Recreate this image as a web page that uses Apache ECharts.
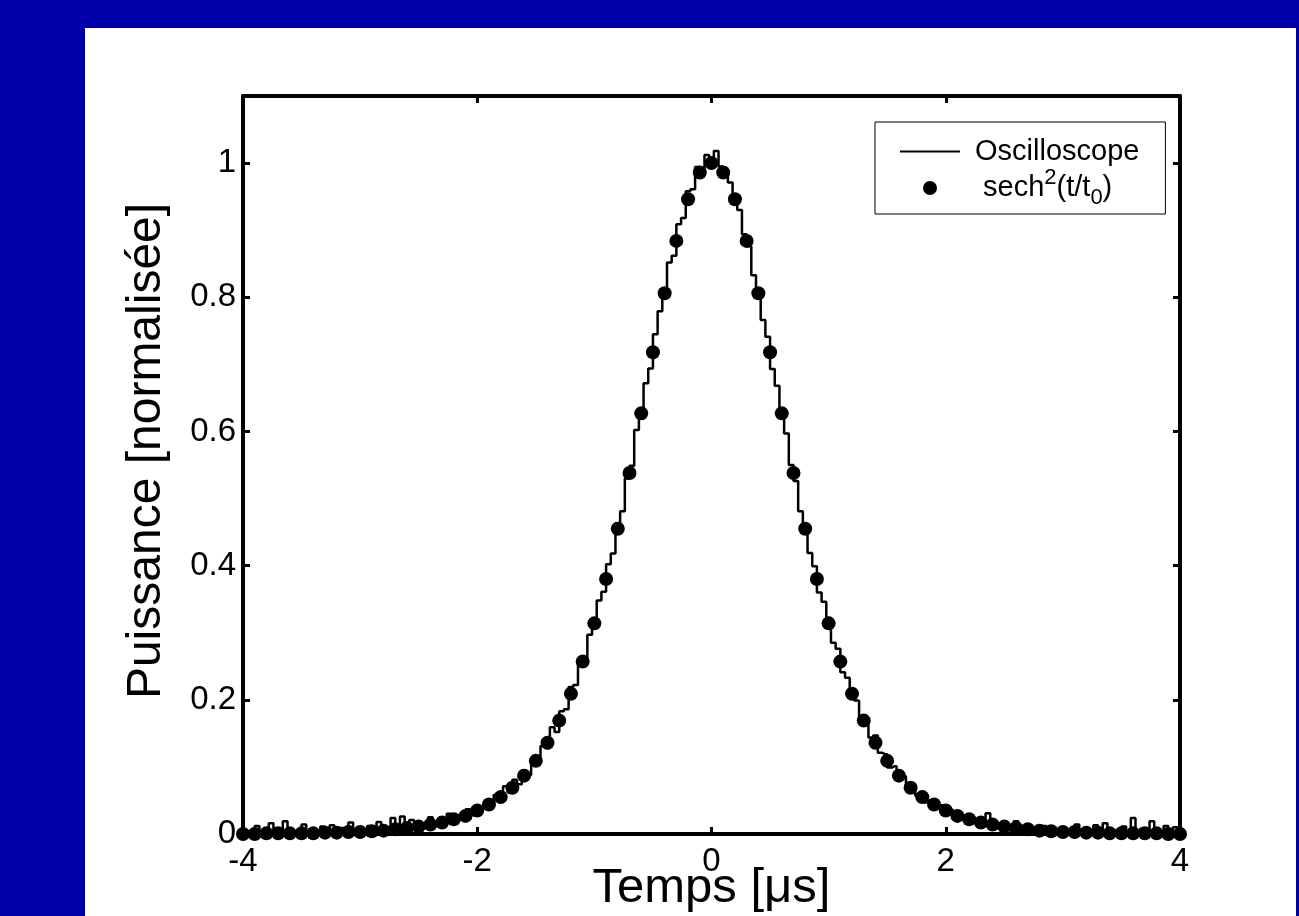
<!DOCTYPE html>
<html><head><meta charset="utf-8">
<script src="https://cdn.jsdelivr.net/npm/echarts@6/dist/echarts.min.js"></script>
<style>
html,body{margin:0;padding:0;width:1299px;height:916px;background:#0000aa;overflow:hidden}
#panel{position:absolute;left:85px;top:28px;width:1211px;height:888px;background:#fff}
#chart{width:1211px;height:888px}
</style></head><body>
<div id="panel"><div id="chart"></div></div>
<script>
// x ticks / y ticks
const xMin = -4, xMax = 4, xInterval = 2;
const yMin = 0, yMax = 1.1, yInterval = 0.2;

// Oscilloscope trace: samples every 0.04 us from -4 to 4
const oscStart = -4, oscStep = 0.04;
const oscValues = [
 0.002,0.004,0.000,0.012,0.003,0.001,0.016,0.004,0.002,0.019,
 0.005,0.001,0.003,0.014,0.002,0.006,0.000,0.011,0.004,0.013,
 0.003,0.009,0.002,0.017,0.005,0.008,0.003,0.012,0.006,0.018,
 0.004,0.010,0.024,0.008,0.026,0.011,0.021,0.007,0.016,0.012,
 0.025,0.013,0.019,0.014,0.030,0.018,0.027,0.022,0.037,0.028,
 0.036,
 0.041,0.049,0.043,0.058,0.052,0.071,0.062,0.081,0.074,0.095,
 0.088,0.112,0.106,0.131,0.128,0.159,0.152,0.183,0.186,0.219,
 0.222,0.258,0.262,0.297,0.309,0.348,0.361,0.402,0.418,0.463,
 0.481,0.530,0.549,0.602,0.619,0.672,0.694,0.745,0.779,0.801,
 0.852,0.862,0.909,0.918,0.958,0.961,0.994,0.986,1.012,
 0.997,
 1.018,0.995,0.983,0.971,0.941,0.930,0.894,0.876,0.833,0.812,
 0.766,0.741,0.693,0.668,0.621,0.597,0.550,0.526,0.481,0.461,
 0.419,0.399,0.360,0.346,0.322,0.285,0.276,0.241,0.233,0.204,
 0.199,0.172,0.169,0.144,0.147,0.121,0.119,0.099,0.101,0.083,
 0.086,0.069,0.071,0.057,0.061,0.047,0.050,0.039,0.043,0.032,
 0.036,0.027,0.030,0.022,0.026,0.018,0.023,0.013,0.031,0.011,
 0.016,0.008,0.014,0.006,0.019,0.004,0.011,0.003,0.008,0.002,
 0.012,0.003,0.006,0.001,0.009,0.002,0.004,0.014,0.002,0.007,
 0.001,0.013,0.003,0.016,0.002,0.005,0.001,0.011,0.004,0.024,
 0.003,0.008,0.002,0.019,0.004,0.002,0.012,0.003,0.010,0.002
];

// sech^2(t/t0) fit points every 0.1 us from -4 to 4
const fitStart = -4, fitStep = 0.1;
const fitValues = [
 0.000,0.000,0.001,0.001,0.001,0.001,0.001,0.002,0.002,0.003,
 0.003,0.004,0.005,0.007,0.009,0.011,0.014,0.017,0.022,0.027,
 0.035,0.044,0.055,0.069,0.087,0.109,0.136,0.169,0.209,0.257,
 0.314,0.380,0.455,0.538,0.627,0.718,0.806,0.884,0.946,0.986,
 1.000,
 0.986,0.946,0.884,0.806,0.718,0.627,0.538,0.455,0.380,0.314,
 0.257,0.209,0.169,0.136,0.109,0.087,0.069,0.055,0.044,0.035,
 0.027,0.022,0.017,0.014,0.011,0.009,0.007,0.005,0.004,0.003,
 0.003,0.002,0.002,0.001,0.001,0.001,0.001,0.001,0.000,0.000
];

const seriesNames = ['Oscilloscope', 'sech²(t/t₀)'];
const xTitle = 'Temps [μs]';
const yTitle = 'Puissance [normalisée]';

const round = v => Math.round(v * 1000) / 1000;
const oscData = oscValues.map((v, i) => [round(oscStart + i * oscStep), v]);
const fitData = fitValues.map((v, i) => [round(fitStart + i * fitStep), v]);

const FONT = "'Liberation Sans', Arial, Helvetica, sans-serif";
const axisLineStyle = { color: '#000', width: 4 };
const tickStyle = { inside: true, length: 7, lineStyle: { color: '#000', width: 3 } };

const chart = echarts.init(document.getElementById('chart'), null, { renderer: 'canvas' });
chart.setOption({
  animation: false,
  backgroundColor: '#fff',
  textStyle: { fontFamily: FONT },
  grid: { left: 158, top: 68, right: 116, bottom: 82, containLabel: false, outerBoundsMode: 'none' },
  legend: {
    orient: 'vertical',
    left: 790, top: 94,
    padding: [15, 26, 5, 25],
    itemGap: 1,
    itemWidth: 60, itemHeight: 14,
    borderColor: '#000', borderWidth: 1, backgroundColor: '#fff',
    data: [
      { name: seriesNames[0], icon: 'path://M0,0 L60,0 L60,2.2 L0,2.2 Z' },
      { name: seriesNames[1], icon: 'circle' }
    ],
    formatter: function (name) {
      if (name === seriesNames[0]) return '{m|' + name + '}';
      return '{n| sech}{sup|2}{n|(t/t}{sub|0}{n|)}';
    },
    textStyle: {
      fontFamily: FONT, color: '#000', fontSize: 29, padding: [0, 0, 0, 10],
      rich: {
        m: { fontFamily: FONT, fontSize: 29, color: '#000', lineHeight: 32, verticalAlign: 'middle' },
        n: { fontFamily: FONT, fontSize: 29, color: '#000', lineHeight: 42, verticalAlign: 'middle' },
        sup: { fontFamily: FONT, fontSize: 22, color: '#000', lineHeight: 22, verticalAlign: 'top' },
        sub: { fontFamily: FONT, fontSize: 22, color: '#000', lineHeight: 22, verticalAlign: 'bottom' }
      }
    }
  },
  xAxis: [{
    type: 'value', position: 'bottom', min: xMin, max: xMax, interval: xInterval,
    axisLine: { show: true, onZero: false, lineStyle: axisLineStyle },
    axisTick: tickStyle,
    axisLabel: { fontSize: 33, color: '#000', margin: 11, fontFamily: FONT },
    splitLine: { show: false },
    name: xTitle, nameLocation: 'middle', nameGap: 30, nameMoveOverlap: false,
    nameTextStyle: { fontSize: 49, color: '#000', fontFamily: FONT }
  }, {
    type: 'value', position: 'top', min: xMin, max: xMax, interval: xInterval,
    axisLine: { show: true, onZero: false, lineStyle: axisLineStyle },
    axisTick: tickStyle, axisLabel: { show: false }, splitLine: { show: false }
  }],
  yAxis: [{
    type: 'value', position: 'left', min: yMin, max: yMax, interval: yInterval,
    axisLine: { show: true, onZero: false, lineStyle: axisLineStyle },
    axisTick: tickStyle,
    axisLabel: { fontSize: 33, color: '#000', margin: 7, fontFamily: FONT, showMaxLabel: false },
    splitLine: { show: false },
    name: yTitle, nameLocation: 'middle', nameGap: 72, nameMoveOverlap: false,
    nameTextStyle: { fontSize: 48, color: '#000', fontFamily: FONT, padding: [0, 0, 0, 28] }
  }, {
    type: 'value', position: 'right', min: yMin, max: yMax, interval: yInterval,
    axisLine: { show: true, onZero: false, lineStyle: axisLineStyle },
    axisTick: tickStyle, axisLabel: { show: false }, splitLine: { show: false }
  }],
  series: [{
    name: seriesNames[0], type: 'line', xAxisIndex: 0, yAxisIndex: 0,
    data: oscData, step: 'middle', symbol: 'none', showSymbol: false,
    lineStyle: { color: '#000', width: 2.5 }, itemStyle: { color: '#000' }, z: 2
  }, {
    name: seriesNames[1], type: 'scatter', xAxisIndex: 0, yAxisIndex: 0,
    data: fitData, symbol: 'circle', symbolSize: 14, clip: false,
    itemStyle: { color: '#000', opacity: 1 }, z: 3
  }]
});
</script>
</body></html>
